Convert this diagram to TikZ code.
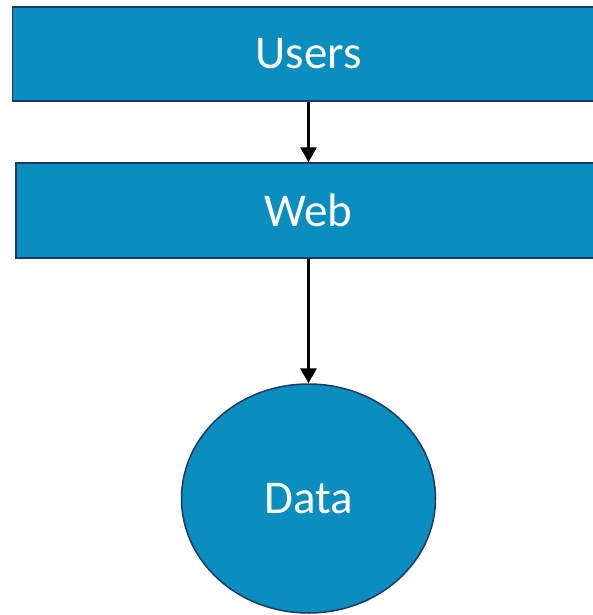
\documentclass[tikz,border=0pt]{standalone}
\usepackage{fontspec}
\setmainfont{Carlito}
\usetikzlibrary{arrows.meta,shapes.geometric}

\definecolor{tierfill}{HTML}{0A8EC0}
\definecolor{tierline}{HTML}{1F3864}

\tikzset{
  tierbox/.style={draw=tierline, line width=1.5pt, fill=tierfill, text=white,
    font=\fontsize{47}{56}\selectfont, inner sep=0pt},
  flow/.style={line width=3pt, -{Triangle[length=15pt,width=16pt]}}
}

\begin{document}
\begin{tikzpicture}[x=1pt, y=-1pt]
    \useasboundingbox (0,0) rectangle (593,615);
    \node[tierbox, rectangle, minimum width=592pt, minimum height=94pt] (users) at (308.5,54) {Users};
    \node[tierbox, rectangle, minimum width=585pt, minimum height=95pt] (web) at (308.5,210.5) {Web};
    \node[tierbox, ellipse, minimum width=254pt, minimum height=229pt] (data) at (308.5,498.5) {Data};
    \draw[flow] (users.south) -- (web.north);
    \draw[flow] (web.south) -- (data.north);
\end{tikzpicture}
\end{document}
